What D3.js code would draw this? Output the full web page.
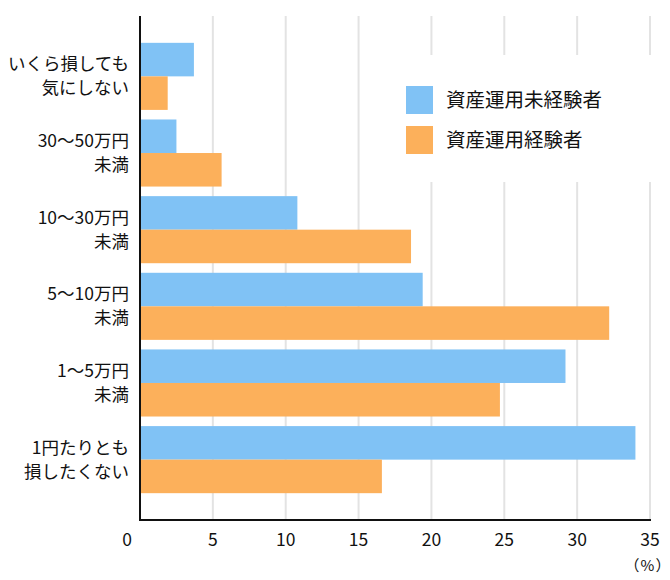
<!DOCTYPE html>
<html><head><meta charset="utf-8">
<script src="https://cdn.jsdelivr.net/npm/d3@7"></script>
<style>
html,body{margin:0;padding:0;background:#fff;}
svg text{font-family:"Noto Sans CJK JP","Noto Sans",sans-serif;fill:#111;}
</style></head>
<body><svg id="c" width="670" height="580"></svg>
<script>
const categories = [
  ["いくら損しても","気にしない"],
  ["30〜50万円","未満"],
  ["10〜30万円","未満"],
  ["5〜10万円","未満"],
  ["1〜5万円","未満"],
  ["1円たりとも","損したくない"]
];
const seriesNames = ["資産運用未経験者","資産運用経験者"];
const seriesColors = ["#80c2f5","#fcb05b"];
const inexperienced = [3.7, 2.5, 10.8, 19.4, 29.2, 34.0];
const experienced = [1.9, 5.6, 18.6, 32.2, 24.7, 16.6];
const xTicks = [0,5,10,15,20,25,30,35];

const svg = d3.select("#c");
const mLeft = 140, mRight = 650, mTop = 16, mBottom = 520;
const x = d3.scaleLinear().domain([0,35]).range([mLeft,mRight]);
const keys = categories.map((c,i)=>i);
const y = d3.scaleBand().domain(keys).range([mTop,mBottom]).paddingInner(0.125).paddingOuter(0.35);
const y1 = d3.scaleBand().domain([0,1]).range([0,y.bandwidth()]);

// gridlines
svg.append("g").selectAll("line").data(xTicks.slice(1)).join("line")
  .attr("x1",d=>x(d)).attr("x2",d=>x(d)).attr("y1",mTop).attr("y2",mBottom)
  .attr("stroke","#e3e3e3").attr("stroke-width",2);

// bars
const series = [inexperienced, experienced];
series.forEach((vals,s)=>{
  svg.append("g").selectAll("rect").data(vals).join("rect")
    .attr("x",x(0)).attr("y",(d,i)=>y(i)+y1(s))
    .attr("width",d=>x(d)-x(0)).attr("height",y1.bandwidth())
    .attr("fill",seriesColors[s]);
});

// legend box (white, covers gridlines)
const lg = svg.append("g");
lg.append("rect").attr("x",392).attr("y",55).attr("width",270).attr("height",127).attr("fill","#fff");
seriesNames.forEach((n,i)=>{
  lg.append("rect").attr("x",406).attr("y",86+i*40).attr("width",27).attr("height",28).attr("fill",seriesColors[i]);
  lg.append("text").attr("x",446).attr("y",100+i*40).attr("dy","0.35em").attr("font-size",19.5).text(n);
});

// axes lines
svg.append("line").attr("x1",x(0)).attr("x2",x(0)).attr("y1",mTop).attr("y2",mBottom+1).attr("stroke","#111").attr("stroke-width",2);
svg.append("line").attr("x1",x(0)-1).attr("x2",x(35)+1).attr("y1",mBottom).attr("y2",mBottom).attr("stroke","#111").attr("stroke-width",2);

// x tick labels
svg.append("g").selectAll("text").data(xTicks).join("text")
  .attr("x",d=>d===0?x(d)-13:x(d)).attr("y",540).attr("dy","0.35em")
  .attr("text-anchor","middle").attr("font-size",17.5).text(d=>d);
svg.append("text").attr("x",x(35)-2).attr("y",566).attr("dy","0.35em").attr("text-anchor","middle").attr("font-size",15).attr("letter-spacing",1).text("（%）");

// category labels
const cl = svg.append("g");
categories.forEach((c,i)=>{
  const cy = y(i)+y.bandwidth()/2;
  c.forEach((line,j)=>{
    cl.append("text").attr("x",129).attr("y",cy+(j-0.5)*24).attr("dy","0.35em")
      .attr("text-anchor","end").attr("font-size",17.5).text(line);
  });
});
</script></body></html>
